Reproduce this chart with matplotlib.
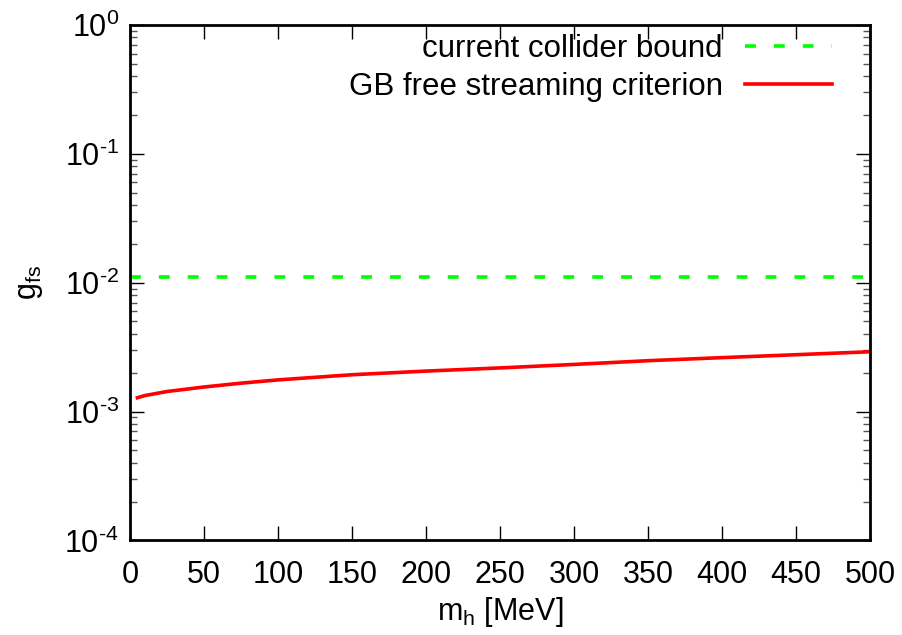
import matplotlib.pyplot as plt
from matplotlib.ticker import LogLocator, FuncFormatter, MultipleLocator, NullFormatter
import numpy as np

plt.rcParams['font.family'] = ['Liberation Sans', 'DejaVu Sans']
plt.rcParams['mathtext.fontset'] = 'custom'
plt.rcParams['mathtext.rm'] = 'Liberation Sans'
plt.rcParams['mathtext.it'] = 'Liberation Sans:italic'

# courbe
m_h = [5, 10, 25, 50, 75, 100, 150, 200, 250, 300, 350, 400, 450, 500]
g_fs = [1.28e-3, 1.33e-3, 1.43e-3, 1.55e-3, 1.66e-3, 1.76e-3, 1.93e-3,
        2.06e-3, 2.18e-3, 2.32e-3, 2.48e-3, 2.62e-3, 2.76e-3, 2.91e-3]
collider_bound = 1.1e-2

fig = plt.figure(figsize=(9.03, 6.35), dpi=100)
ax = fig.add_axes([0.144, 0.149, 0.8195, 0.8117])

ax.axhline(collider_bound, color='#00ff00', lw=2.6, dashes=(3.0, 5.0),
           label='current collider bound')
ax.plot(m_h, g_fs, color='#ff0000', lw=2.6, label='GB free streaming criterion')

ax.set_yscale('log')
ax.set_xlim(0, 500)
ax.set_ylim(1e-4, 1)


def puissance(v, pos):
    e = int(round(np.log10(v)))
    return r'10$^{\text{%d}}$' % e


ax.xaxis.set_major_locator(MultipleLocator(50))
ax.yaxis.set_major_locator(LogLocator(base=10, numticks=10))
ax.yaxis.set_major_formatter(FuncFormatter(puissance))
ax.yaxis.set_minor_locator(LogLocator(base=10, subs=range(2, 10), numticks=10))
ax.yaxis.set_minor_formatter(NullFormatter())

ax.tick_params(which='both', direction='in', top=True, right=True, labelsize=22)
ax.tick_params(axis='x', which='major', pad=14)
ax.tick_params(axis='y', which='major', pad=8)
ax.tick_params(which='major', length=10, width=1)
ax.tick_params(which='minor', length=5, width=1, color='#555555')
for s in ax.spines.values():
    s.set_linewidth(2)

ax.set_xlabel(r'm$_\mathrm{h}$ [MeV]', fontsize=22, labelpad=4)
ax.set_ylabel(r'g$_\mathrm{fs}$', fontsize=22, labelpad=14)

ax.legend(loc='upper right', frameon=False, fontsize=22.5, markerfirst=False,
          handlelength=2.8, labelspacing=0.25, borderaxespad=0.1,
          handletextpad=0.7, bbox_to_anchor=(0.97, 1.012))

fig.savefig('out.png', dpi=100)
